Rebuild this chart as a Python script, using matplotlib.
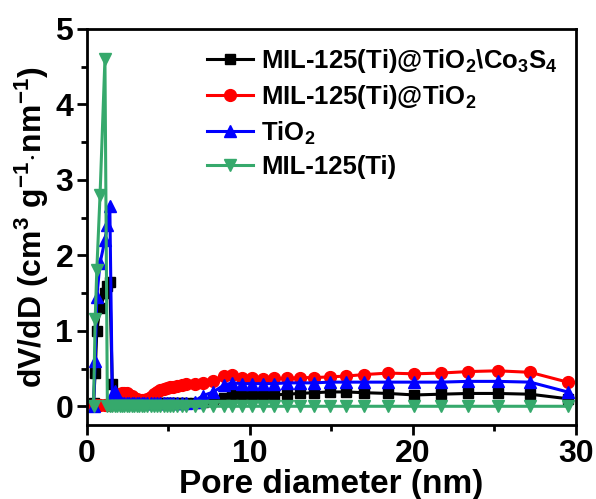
import matplotlib
matplotlib.use("Agg")
import matplotlib.pyplot as plt
from matplotlib.ticker import MultipleLocator

plt.rcParams["font.family"] = "Liberation Sans"
plt.rcParams["font.weight"] = "bold"
plt.rcParams["mathtext.fontset"] = "custom"
plt.rcParams["mathtext.rm"] = "Liberation Sans:bold"
plt.rcParams["mathtext.bf"] = "Liberation Sans:bold"
plt.rcParams["mathtext.default"] = "bf"

# pore diameter grid (nm)
pore_d = [0.4, 0.5, 0.6, 0.8, 1.1, 1.25, 1.4, 1.55, 1.7, 1.85,
          2.0, 2.15, 2.3, 2.45, 2.6, 2.75, 2.9, 3.05, 3.2, 3.35,
          3.5, 3.7, 3.9, 4.1, 4.3, 4.5, 4.7, 4.9, 5.1, 5.3,
          5.5, 5.8, 6.1, 6.6, 7.1, 7.75, 8.4, 8.9, 9.5, 10.1,
          10.8, 11.5, 12.25, 13.05, 13.95, 14.9, 15.9, 17.0, 18.5, 20.1,
          21.7, 23.4, 25.2, 27.2, 29.5]

co3s4 = [0.05, 0.44, 1.0, 1.3, 1.5, 1.6, 1.65, 0.3, 0.05, 0.04,
         0.04, 0.04, 0.04, 0.04, 0.04, 0.04, 0.04, 0.04, 0.04, 0.04,
         0.04, 0.04, 0.04, 0.04, 0.04, 0.04, 0.04, 0.04, 0.04, 0.04,
         0.04, 0.04, 0.04, 0.05, 0.06, 0.08, 0.11, 0.15, 0.15, 0.15,
         0.15, 0.15, 0.16, 0.17, 0.18, 0.19, 0.19, 0.18, 0.17, 0.15,
         0.16, 0.17, 0.17, 0.16, 0.10]

mil_tio2 = [0.02, 0.02, 0.02, 0.02, 0.02, 0.02, 0.02, 0.03, 0.05, 0.10,
            0.16, 0.18, 0.18, 0.17, 0.15, 0.13, 0.11, 0.09, 0.08, 0.08,
            0.08, 0.09, 0.12, 0.16, 0.19, 0.21, 0.23, 0.24, 0.25, 0.26,
            0.27, 0.28, 0.29, 0.30, 0.31, 0.33, 0.40, 0.41, 0.38, 0.37,
            0.36, 0.37, 0.37, 0.38, 0.38, 0.39, 0.40, 0.42, 0.44, 0.43,
            0.44, 0.46, 0.47, 0.45, 0.32]

tio2 = [0.0, 0.6, 1.45, 1.9, 2.2, 2.4, 2.65, 0.15, 0.2, 0.12,
        0.06, 0.05, 0.05, 0.05, 0.05, 0.05, 0.05, 0.05, 0.05, 0.05,
        0.05, 0.05, 0.05, 0.05, 0.05, 0.05, 0.05, 0.05, 0.05, 0.05,
        0.05, 0.05, 0.05, 0.06, 0.14, 0.19, 0.28, 0.31, 0.30, 0.30,
        0.30, 0.30, 0.31, 0.31, 0.31, 0.32, 0.32, 0.32, 0.32, 0.32,
        0.32, 0.33, 0.33, 0.32, 0.19]

mil125 = [0.0, 1.15, 1.8, 2.8, 4.6, 0.0, 0.0, 0.0, 0.0, 0.0,
          0.0, 0.0, 0.0, 0.0, 0.0, 0.0, 0.0, 0.0, 0.0, 0.0,
          0.0, 0.0, 0.0, 0.0, 0.0, 0.0, 0.0, 0.0, 0.0, 0.0,
          0.0, 0.0, 0.0, 0.0, 0.0, 0.0, 0.0, 0.0, 0.0, 0.0,
          0.0, 0.0, 0.0, 0.0, 0.0, 0.0, 0.0, 0.0, 0.0, 0.0,
          0.0, 0.0, 0.0, 0.0, 0.0]

fig = plt.figure(figsize=(5.96, 4.99), dpi=100)
ax = fig.add_axes([0.146, 0.148, 0.82, 0.794])

ax.plot(pore_d, co3s4, "-s", color="black", lw=2.2, ms=7,
        label=r"MIL-125(Ti)@TiO$_2$\Co$_3$S$_4$")
ax.plot(pore_d, mil_tio2, "-o", color="red", lw=2.2, ms=8.5,
        label=r"MIL-125(Ti)@TiO$_2$")
ax.plot(pore_d, tio2, "-^", color="blue", lw=2.2, ms=8.5,
        label=r"TiO$_2$")
ax.plot(pore_d, mil125, "-v", color="#36a96c", lw=2.2, ms=8.5,
        label="MIL-125(Ti)")

ax.set_xlim(0, 30)
ax.set_ylim(-0.25, 5)
ax.xaxis.set_major_locator(MultipleLocator(10))
ax.xaxis.set_minor_locator(MultipleLocator(5))
ax.yaxis.set_major_locator(MultipleLocator(1))
ax.yaxis.set_minor_locator(MultipleLocator(0.5))
ax.tick_params(axis="both", which="major", direction="out", length=7,
               width=2, labelsize=23, pad=3)
ax.tick_params(axis="both", which="minor", direction="out", length=4, width=2)
for sp in ax.spines.values():
    sp.set_linewidth(2)

ax.set_xlabel("Pore diameter (nm)", fontsize=24, fontweight="bold", labelpad=0)
ax.set_ylabel(r"dV/dD (cm$^3$ g$^{-1}$$\cdot$nm$^{-1}$)", fontsize=23,
              fontweight="bold", labelpad=3)

leg = ax.legend(loc="upper right", frameon=False, fontsize=18.5,
                handlelength=1.8, handletextpad=0.3, labelspacing=0.32,
                borderaxespad=0.3)

fig.savefig("out.png", dpi=100)
